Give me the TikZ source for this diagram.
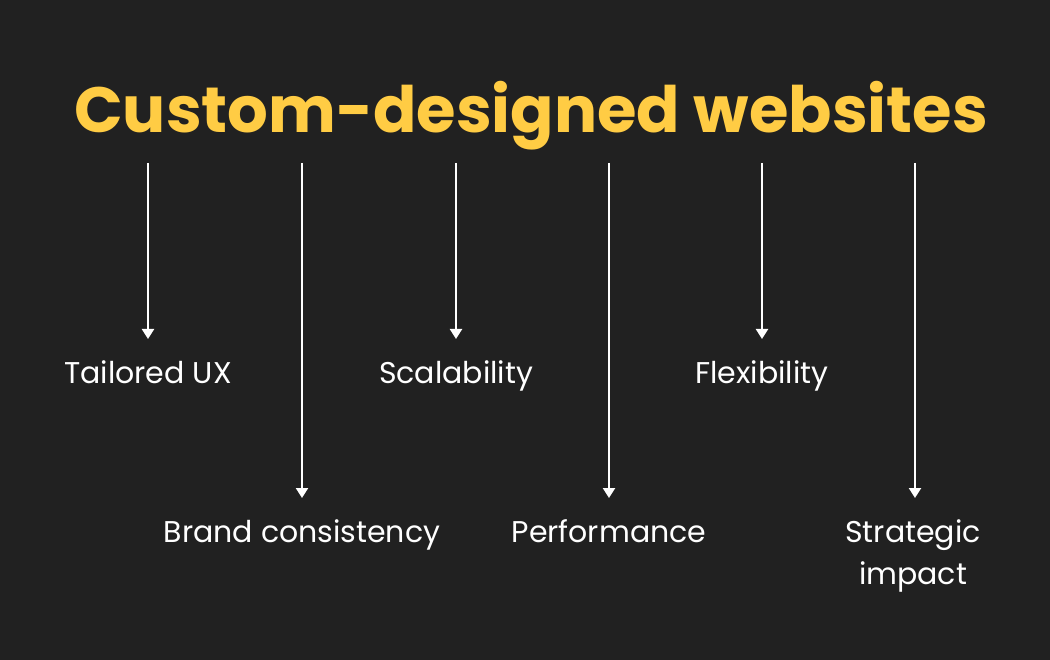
\documentclass[tikz,border=0pt]{standalone}
\usepackage{fontspec}
\setmainfont{Poppins}
\usetikzlibrary{arrows.meta}
\definecolor{bgdark}{HTML}{212121}
\definecolor{headyellow}{HTML}{FFCC44}

\begin{document}
\begin{tikzpicture}[x=1pt,y=-1pt,
  headline/.style={font=\fontsize{64}{78}\selectfont\bfseries, text=headyellow, inner sep=0pt, anchor=base},
  feature/.style={font=\fontsize{30}{42}\selectfont, text=white, inner sep=0pt, anchor=north, align=center},
  drop/.style={draw=white, line width=2.2pt, shorten >=21pt, -{Triangle[width=12pt,length=10pt,fill=white]}}]
  \fill[bgdark] (0,0) rectangle (1050,660);
  \node[headline] (H) at (531,133) {Custom-designed websites};
  \node[feature] (F1) at (148,360) {Tailored UX};
  \node[feature] (F2) at (302,519) {Brand consistency};
  \node[feature] (F3) at (456,360) {Scalability};
  \node[feature] (F4) at (609,519) {Performance};
  \node[feature] (F5) at (762,360) {Flexibility};
  \node[feature] (F6) at (913,519) {Strategic\\impact};
  \coordinate (S1) at (148,163);
  \coordinate (S2) at (302,163);
  \coordinate (S3) at (456,163);
  \coordinate (S4) at (609,163);
  \coordinate (S5) at (762,163);
  \coordinate (S6) at (915,163);
  \path[every edge/.append style={drop}]
    (S1) edge (S1 |- F1.north)
    (S2) edge (S2 |- F2.north)
    (S3) edge (S3 |- F3.north)
    (S4) edge (S4 |- F4.north)
    (S5) edge (S5 |- F5.north)
    (S6) edge (S6 |- F6.north);
\end{tikzpicture}
\end{document}
